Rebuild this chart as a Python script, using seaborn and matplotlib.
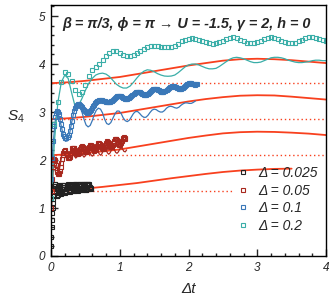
import numpy as np
import matplotlib
matplotlib.use("Agg")
import matplotlib.pyplot as plt
from matplotlib.ticker import MultipleLocator
import seaborn as sns

# ---------------- data ----------------
labels = ["Δ = 0.025", "Δ = 0.05", "Δ = 0.1", "Δ = 0.2"]
colors = ["#222222", "#a8281e", "#3a78b8", "#3aaea8"]
red = "#f8401e"

# Δ = 0.025 squares (t from 0 to 0.58)
s_k = [0.20, 0.40, 0.60, 0.75, 0.90, 1.00, 1.10, 1.18, 1.25, 1.35, 1.45, 1.49, 1.50, 1.46,
       1.40, 1.33, 1.28, 1.25, 1.25, 1.28, 1.32, 1.38, 1.44, 1.47, 1.48, 1.46, 1.42, 1.37,
       1.33, 1.31, 1.30, 1.32, 1.35, 1.40, 1.44, 1.47, 1.48, 1.47, 1.44, 1.40, 1.36, 1.33,
       1.32, 1.33, 1.36, 1.40, 1.44, 1.47, 1.49, 1.48, 1.46, 1.42, 1.38, 1.35, 1.34, 1.35,
       1.37, 1.41, 1.45, 1.48, 1.49, 1.48, 1.46, 1.43, 1.39, 1.37, 1.35, 1.36, 1.38, 1.42,
       1.46, 1.49, 1.50, 1.49, 1.47, 1.44, 1.40, 1.38, 1.36, 1.37, 1.39, 1.42, 1.46, 1.49,
       1.50, 1.49, 1.48, 1.45, 1.41, 1.39, 1.37, 1.37, 1.39, 1.43, 1.47, 1.50, 1.51, 1.50,
       1.49, 1.46, 1.42, 1.40, 1.38, 1.38, 1.40, 1.44, 1.47, 1.50, 1.51, 1.51, 1.50, 1.47,
       1.43, 1.41, 1.39, 1.40, 1.41]
t_k = np.linspace(0, 0.58, len(s_k))

# Δ = 0.05 squares (t 0..1.08) and thin line (t 0..1.10)
s_r = [1.00, 1.35, 1.60, 1.85, 2.00, 2.03, 2.00, 1.90, 1.80, 1.74, 1.70, 1.70, 1.72, 1.78,
       1.85, 1.94, 2.02, 2.10, 2.15, 2.19, 2.20, 2.18, 2.15, 2.10, 2.07, 2.05, 2.05, 2.07,
       2.10, 2.15, 2.20, 2.24, 2.26, 2.26, 2.24, 2.21, 2.17, 2.14, 2.12, 2.12, 2.14, 2.18,
       2.22, 2.26, 2.28, 2.29, 2.28, 2.25, 2.22, 2.19, 2.16, 2.16, 2.17, 2.20, 2.24, 2.27,
       2.30, 2.31, 2.31, 2.29, 2.26, 2.23, 2.20, 2.19, 2.20, 2.22, 2.26, 2.30, 2.33, 2.35,
       2.35, 2.33, 2.30, 2.27, 2.24, 2.23, 2.23, 2.25, 2.28, 2.32, 2.36, 2.38, 2.39, 2.38,
       2.35, 2.31, 2.28, 2.27, 2.27, 2.29, 2.32, 2.36, 2.40, 2.43, 2.44, 2.43, 2.41, 2.37,
       2.34, 2.32, 2.32, 2.33, 2.36, 2.40, 2.44, 2.46, 2.47, 2.46, 2.44]
t_r = np.linspace(0, 1.08, len(s_r))
s_rl = [0.70, 1.50, 1.95, 2.05, 1.90, 1.78, 1.80, 1.95, 2.12, 2.20, 2.15, 2.05, 2.00, 2.04,
        2.14, 2.20, 2.17, 2.08, 2.04, 2.07, 2.16, 2.21, 2.18, 2.10, 2.06, 2.09, 2.17, 2.22,
        2.19, 2.11, 2.08, 2.11, 2.19, 2.23, 2.20, 2.13, 2.10, 2.13, 2.20, 2.24, 2.21, 2.15,
        2.12, 2.15, 2.21, 2.25, 2.22, 2.16, 2.14, 2.17, 2.23, 2.26, 2.23, 2.18, 2.17, 2.21]
t_rl = np.linspace(0, 1.10, len(s_rl))

# Δ = 0.1 squares (t 0..2.13) and thin line (t 0..2.10)
s_b = [1.60, 2.05, 2.40, 2.70, 2.90, 2.99, 3.02, 3.00, 2.95, 2.86, 2.75, 2.64, 2.55, 2.49,
       2.45, 2.45, 2.47, 2.52, 2.60, 2.70, 2.82, 2.93, 3.02, 3.09, 3.13, 3.155, 3.16, 3.16,
       3.15, 3.13, 3.10, 3.07, 3.04, 3.02, 3.00, 2.99, 2.99, 3.00, 3.02, 3.05, 3.08, 3.12,
       3.15, 3.18, 3.20, 3.22, 3.24, 3.25, 3.25, 3.25, 3.24, 3.23, 3.22, 3.21, 3.20, 3.20,
       3.20, 3.21, 3.22, 3.24, 3.26, 3.28, 3.30, 3.32, 3.33, 3.34, 3.34, 3.34, 3.33, 3.32,
       3.30, 3.29, 3.28, 3.28, 3.28, 3.29, 3.30, 3.32, 3.34, 3.36, 3.38, 3.40, 3.41, 3.42,
       3.42, 3.42, 3.41, 3.40, 3.38, 3.37, 3.36, 3.36, 3.36, 3.37, 3.38, 3.40, 3.42, 3.44,
       3.46, 3.47, 3.48, 3.48, 3.48, 3.47, 3.46, 3.45, 3.43, 3.42, 3.42, 3.42, 3.43, 3.44,
       3.46, 3.48, 3.50, 3.52, 3.53, 3.54, 3.54, 3.54, 3.53, 3.52, 3.51, 3.50, 3.49, 3.49,
       3.49, 3.50, 3.51, 3.53, 3.55, 3.57, 3.58, 3.59, 3.60, 3.60, 3.60, 3.59, 3.58, 3.575,
       3.57, 3.575, 3.58]
t_b = np.linspace(0, 2.13, len(s_b))
s_bl = [1.50, 2.30, 2.80, 3.00, 2.90, 2.70, 2.50, 2.39, 2.40, 2.55, 2.78, 2.98, 3.10, 3.15,
        3.12, 3.00, 2.85, 2.73, 2.69, 2.72, 2.82, 2.95, 3.04, 3.08, 3.06, 2.98, 2.85, 2.76,
        2.74, 2.78, 2.87, 2.96, 3.02, 3.02, 2.97, 2.88, 2.82, 2.80, 2.83, 2.90, 2.97, 3.01,
        3.01, 2.97, 2.92, 2.89, 2.89, 2.93, 2.99, 3.04, 3.06, 3.05, 3.02, 3.00, 3.00, 3.03,
        3.08, 3.11, 3.12, 3.11, 3.09, 3.08, 3.10, 3.14, 3.17, 3.19, 3.19, 3.18, 3.18, 3.20,
        3.23]
t_bl = np.linspace(0, 2.10, len(s_bl))

# Δ = 0.2 squares and thin line (t 0..4)
s_g = [1.20, 2.75, 3.20, 3.62, 3.83, 3.80, 3.65, 3.45, 3.38, 3.42, 3.57, 3.76, 3.87, 3.93,
       4.00, 4.09, 4.17, 4.24, 4.28, 4.27, 4.22, 4.19, 4.17, 4.16, 4.18, 4.22, 4.27, 4.32,
       4.36, 4.38, 4.385, 4.375, 4.36, 4.35, 4.35, 4.36, 4.38, 4.42, 4.47, 4.51, 4.53, 4.54,
       4.53, 4.51, 4.48, 4.45, 4.43, 4.42, 4.43, 4.45, 4.49, 4.52, 4.55, 4.555, 4.54, 4.51,
       4.47, 4.445, 4.43, 4.43, 4.45, 4.48, 4.52, 4.545, 4.555, 4.55, 4.52, 4.49, 4.46, 4.445,
       4.44, 4.445, 4.47, 4.51, 4.54, 4.56, 4.56, 4.54, 4.52, 4.50, 4.49]
t_g = np.linspace(0, 4.0, len(s_g))
s_gl = [1.00, 2.40, 3.20, 3.62, 3.77, 3.70, 3.40, 3.12, 3.14, 3.28, 3.45, 3.60, 3.70, 3.77,
        3.80, 3.81, 3.79, 3.74, 3.66, 3.58, 3.53, 3.50, 3.50, 3.54, 3.62, 3.71, 3.79, 3.85,
        3.88, 3.87, 3.84, 3.80, 3.77, 3.75, 3.745, 3.75, 3.77, 3.82, 3.88, 3.94, 3.98, 4.00,
        4.00, 3.98, 3.95, 3.92, 3.90, 3.90, 3.91, 3.95, 4.00, 4.05, 4.10, 4.13, 4.14, 4.13,
        4.11, 4.08, 4.05, 4.03, 4.03, 4.04, 4.07, 4.10, 4.13, 4.14, 4.14, 4.13, 4.11, 4.08,
        4.06, 4.04, 4.03, 4.03, 4.04, 4.05, 4.07, 4.08, 4.08, 4.07, 4.07]
t_gl = np.linspace(0, 4.0, len(s_gl))

# red solid reference curves (sampled every 0.25 in Δt)
red_a = [1.35, 1.375, 1.405, 1.44, 1.48, 1.52, 1.57, 1.62, 1.665, 1.71, 1.75, 1.78, 1.80,
         1.815, 1.82]
red_b = [2.10, 2.12, 2.15, 2.18, 2.22, 2.28, 2.34, 2.40, 2.46, 2.51, 2.555, 2.58, 2.59,
         2.585, 2.57, 2.55, 2.52]
red_c = [2.85, 2.87, 2.90, 2.94, 2.98, 3.04, 3.10, 3.16, 3.22, 3.27, 3.31, 3.34, 3.35,
         3.345, 3.32, 3.29, 3.26]
red_d = [3.60, 3.62, 3.65, 3.69, 3.73, 3.79, 3.85, 3.91, 3.97, 4.02, 4.07, 4.10, 4.11,
         4.10, 4.08, 4.05, 4.02]
t_red_step = 0.25

# red dotted levels
dot_levels = [1.35, 2.10, 2.85, 3.60]
dot_ends = [2.65, 4.0, 4.0, 4.0]

title_text = "β = π/3, ϕ = π → U = -1.5, γ = 2, h = 0"

# ---------------- style ----------------
sns.set_style("ticks")
plt.rcParams["font.family"] = ["Liberation Sans", "DejaVu Sans"]
plt.rcParams["mathtext.fontset"] = "custom"
plt.rcParams["mathtext.rm"] = "Liberation Sans"
plt.rcParams["mathtext.it"] = "Liberation Sans:italic"

fig = plt.figure(figsize=(3.32, 3.07), dpi=100)
ax = fig.add_axes([51 / 332, 51 / 307, 275 / 332, 251 / 307])

# red dotted lines
for lev, te in zip(dot_levels, dot_ends):
    sns.lineplot(x=[0, te], y=[lev, lev], ax=ax, color=red, lw=1.0,
                 linestyle=(0, (1, 2)), legend=False)

# red solid lines
for vals in [red_a, red_b, red_c, red_d]:
    tt = np.arange(len(vals)) * t_red_step
    sns.lineplot(x=tt, y=vals, ax=ax, color=red, lw=1.3, legend=False)

# thin lines
for tt, vv, c in [(t_rl, s_rl, colors[1]), (t_bl, s_bl, colors[2]), (t_gl, s_gl, colors[3])]:
    sns.lineplot(x=tt, y=vv, ax=ax, color=c, lw=0.9, legend=False)

# squares
for tt, vv, c, lab in [(t_k, s_k, colors[0], labels[0]), (t_r, s_r, colors[1], labels[1]),
                       (t_b, s_b, colors[2], labels[2]), (t_g, s_g, colors[3], labels[3])]:
    sns.lineplot(x=tt, y=vv, ax=ax, color=c, linestyle="none", marker="s",
                 markersize=3.4, markerfacecolor="none", markeredgecolor=c,
                 markeredgewidth=0.8, label=lab)

ax.set_xlim(0, 4)
ax.set_ylim(0, 5.23)
ax.set_xticks([0, 1, 2, 3, 4])
ax.set_yticks([0, 1, 2, 3, 4, 5])
ax.xaxis.set_minor_locator(MultipleLocator(0.2))
ax.yaxis.set_minor_locator(MultipleLocator(0.2))
ax.tick_params(which="both", direction="in", top=False, right=False, width=1.0)
ax.tick_params(which="major", length=5, labelsize=8.5, pad=4)
ax.tick_params(which="minor", length=2.5)
for lab in ax.get_xticklabels() + ax.get_yticklabels():
    lab.set_fontstyle("italic")
for sp in ax.spines.values():
    sp.set_linewidth(1.0)
    sp.set_color("black")

ax.set_xlabel("Δt", fontsize=11, fontstyle="italic", labelpad=6)
ax.set_ylabel("$S_4$", fontsize=11, rotation=0, ha="center", va="center")
ax.yaxis.set_label_coords(-0.127, 0.554)

ax.text(0.04, 0.925, title_text, transform=ax.transAxes, fontsize=10.4,
        fontstyle="italic", fontweight="bold", ha="left", va="center")

leg = ax.legend(loc="lower right", bbox_to_anchor=(1.0, 0.06), frameon=False,
                prop={"style": "italic", "size": 10},
                handlelength=0.8, handletextpad=0.7, labelspacing=0.25,
                borderaxespad=0.2, markerscale=0.8)

fig.savefig("out.png", dpi=100)
